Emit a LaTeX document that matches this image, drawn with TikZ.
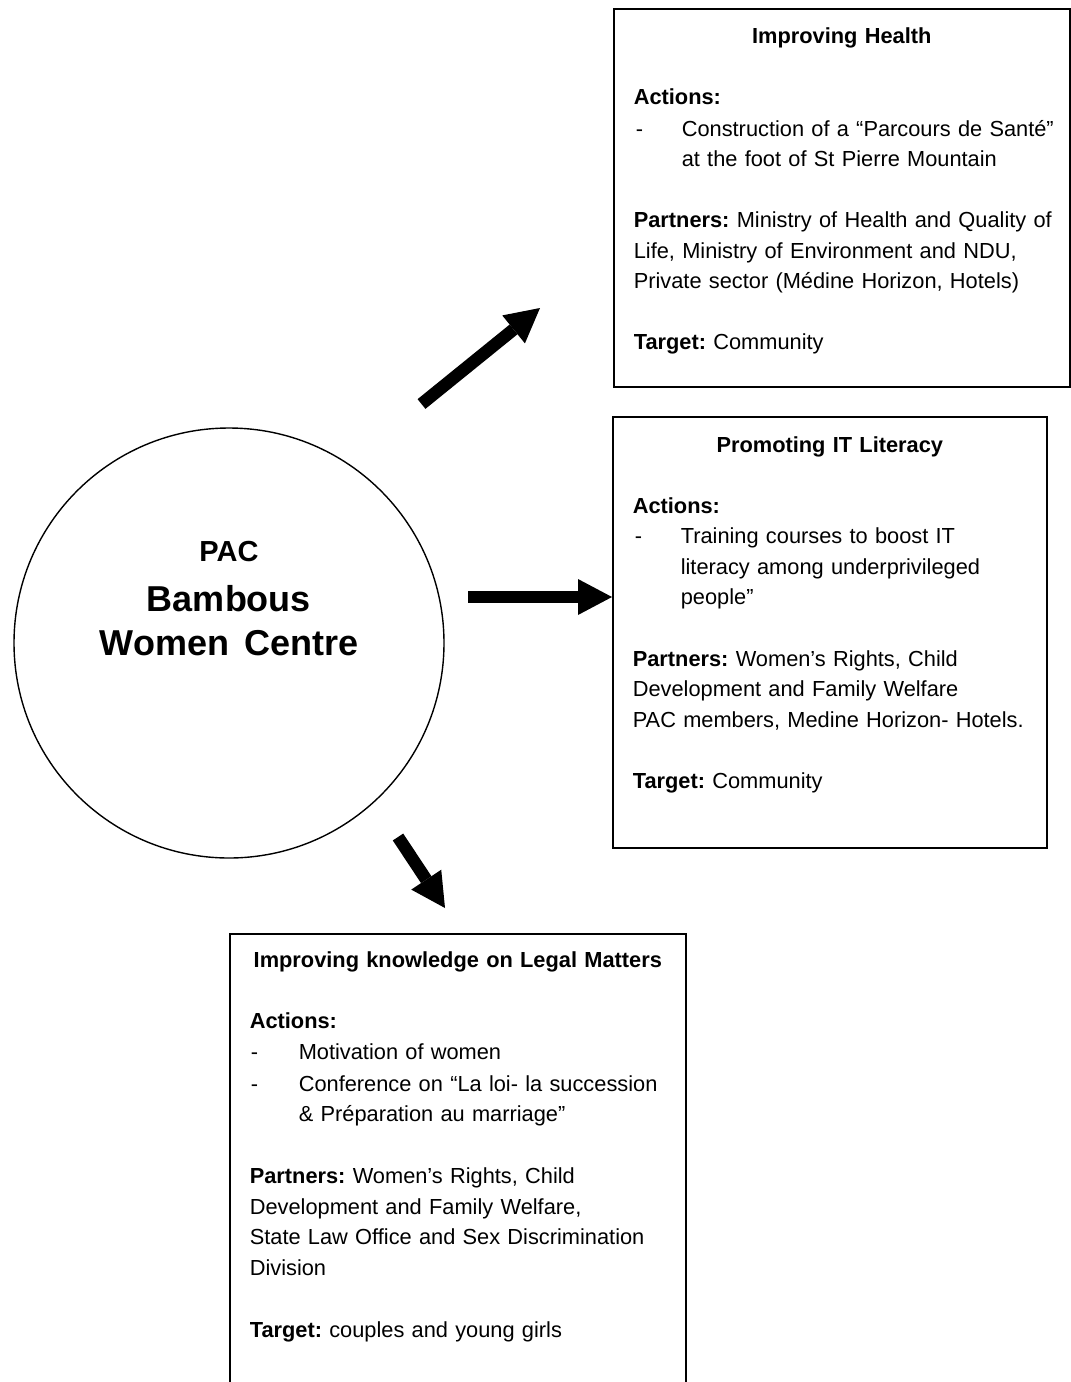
\documentclass[tikz,border=0pt]{standalone}
\usepackage{fontspec}
\setmainfont{Liberation Sans}
\usetikzlibrary{arrows.meta}
\setlength\parindent{0pt}
\frenchspacing
\begin{document}
\begin{tikzpicture}[x=1pt,y=-1pt,
  infobox/.style={draw, line width=1.6pt, rectangle, anchor=north west,
    inner xsep=20pt, inner ysep=0pt, align=left,
    font=\fontsize{21.8pt}{30.5pt}\selectfont\frenchspacing},
  hub/.style={draw, line width=1.4pt, circle, minimum size=430pt, inner sep=0pt,
    text width=300pt, align=center, font=\bfseries\frenchspacing},
  blockarrow/.style={line width=12.5pt,
    -{Triangle[length=34pt,width=36pt,line width=0pt]}}
]
\useasboundingbox (0,0) rectangle (1071,1382);
\clip (0,0) rectangle (1071,1382);

% central circle
\node[hub] (pac) at (229,643) {\rule{0pt}{22pt}{\fontsize{29pt}{44pt}\selectfont PAC}\\[6pt]%
  \fontsize{36pt}{44pt}\selectfont\spaceskip=0pt\relax Bambous\\Women Centre\rule[-92pt]{0pt}{92pt}\par};

% top box
\node[infobox, text width=416pt] (health) at (613,8) {%
\rule{0pt}{35pt}\makebox[\hsize][c]{\bfseries Improving Health}\\[30pt]
\textbf{Actions:}\\[1.5pt]
\mbox{\makebox[48pt][l]{\hspace{2pt}-}Construction of a “Parcours de Santé”}\\
\mbox{\hspace*{48pt}at the foot of St Pierre Mountain}\\[30.5pt]
\mbox{\textbf{Partners:} Ministry of Health and Quality of}\\
\mbox{Life, Ministry of Environment and NDU,}\\
\mbox{Private sector (Médine Horizon, Hotels)}\\[30.5pt]
\textbf{Target:} Community\rule[-37pt]{0pt}{37pt}\par};

% middle box
\node[infobox, text width=394pt] (it) at (612,416) {%
\rule{0pt}{36pt}\makebox[\hsize][c]{\bfseries Promoting IT Literacy}\\[30pt]
\textbf{Actions:}\\
\mbox{\makebox[48pt][l]{\hspace{2pt}-}Training courses to boost IT}\\
\mbox{\hspace*{48pt}literacy among underprivileged}\\
\mbox{\hspace*{48pt}people”}\\[31pt]
\mbox{\textbf{Partners:} Women’s Rights, Child}\\
\mbox{Development and Family Welfare}\\
\mbox{PAC members, Medine Horizon- Hotels.}\\[31pt]
\textbf{Target:} Community\rule[-59pt]{0pt}{59pt}\par};

% bottom box
\node[infobox, text width=416pt] (legal) at (229,933) {%
\rule{0pt}{34pt}\makebox[\hsize][c]{\bfseries Improving knowledge on Legal Matters}\\[30.5pt]
\textbf{Actions:}\\
\mbox{\makebox[49pt][l]{\hspace{1pt}-}Motivation of women}\\[1.5pt]
\mbox{\makebox[49pt][l]{\hspace{1pt}-}Conference on “La loi- la succession}\\
\mbox{\hspace*{49pt}\& Préparation au marriage”}\\[31.5pt]
\mbox{\textbf{Partners:} Women’s Rights, Child}\\
\mbox{Development and Family Welfare,}\\
\mbox{State Law Office and Sex Discrimination}\\
\mbox{Division}\\[32pt]
\textbf{Target:} couples and young girls\rule[-80pt]{0pt}{80pt}\par};

% arrows
\coordinate (a1s) at (421.5,404);
\coordinate (a1e) at (540,308);
\coordinate (a2s) at (468,597);
\coordinate (a2e) at (612,597);
\coordinate (a3s) at (398,837);
\coordinate (a3e) at (445,908);
\draw[blockarrow] (a1s) -- (a1e);
\draw[blockarrow] (a2s) -- (a2e);
\draw[blockarrow] (a3s) -- (a3e);
\end{tikzpicture}
\end{document}
